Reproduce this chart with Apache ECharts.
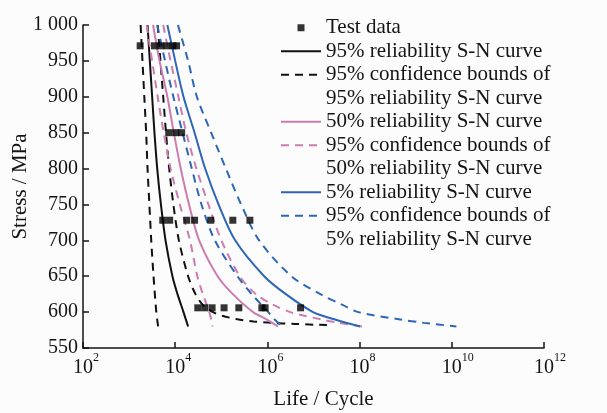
<!DOCTYPE html>
<html><head><meta charset="utf-8">
<script src="https://cdn.jsdelivr.net/npm/echarts@6/dist/echarts.min.js"></script>
<style>html,body{margin:0;padding:0;background:#fcfcfc}#c{width:607px;height:413px}</style>
</head><body><div id="c"></div>
<script>
// ---- Data (x = log10 of life in cycles, y = stress in MPa) ----
const xTicks = [2, 4, 6, 8, 10, 12];           // exponents of 10 shown on the life axis
const testStress = [971, 850, 728, 606];
const testLogLife = [
  [3.24, 3.55, 3.69, 3.82, 3.95, 4.03],
  [3.86, 4.01, 4.14],
  [3.73, 3.88, 4.25, 4.42, 4.77, 5.25, 5.62],
  [4.49, 4.64, 4.80, 5.06, 5.38, 5.88, 5.95, 6.72]
];
// 95% reliability curve and its 95% confidence bounds
const rel95 = [[3.40,1000],[3.45,950],[3.50,900],[3.55,850],[3.61,800],[3.69,750],[3.79,700],[3.94,650],[4.05,625],[4.18,600],[4.28,580]];
const rel95Lower = [[3.25,1000],[3.29,950],[3.33,900],[3.37,850],[3.40,800],[3.44,750],[3.48,700],[3.53,650],[3.59,600],[3.63,580]];
const rel95Upper = [[3.62,1000],[3.68,950],[3.74,900],[3.80,850],[3.87,800],[3.96,750],[4.08,700],[4.28,650],[4.44,625],[4.60,610],[4.82,600],[5.02,595],[5.35,590],[5.70,587],[6.10,585],[6.60,583.5],[7.00,582.5],[7.29,582]];
// 50% reliability curve and its bounds
const rel50 = [[3.52,1000],[3.66,950],[3.83,900],[3.97,850],[4.12,800],[4.30,750],[4.52,700],[4.92,650],[5.25,625],[5.69,600],[5.98,590],[6.23,580]];
const rel50Lower = [[3.38,1000],[3.50,950],[3.62,900],[3.75,850],[3.90,800],[4.10,750],[4.32,700],[4.48,650],[4.60,625],[4.74,600],[4.78,590],[4.81,580]];
const rel50Upper = [[3.74,1000],[3.90,950],[4.07,900],[4.24,850],[4.46,800],[4.72,750],[5.00,700],[5.40,650],[5.75,625],[6.13,610],[6.50,600],[6.80,595],[7.15,590],[7.55,585],[8.05,580]];
// 5% reliability curve and its bounds
const rel5 = [[3.83,1000],[4.00,950],[4.18,900],[4.42,850],[4.65,800],[4.94,750],[5.30,700],[5.93,650],[6.40,625],[6.99,600],[7.45,590],[8.01,580]];
const rel5Lower = [[3.61,1000],[3.78,950],[3.96,900],[4.16,850],[4.36,800],[4.57,750],[4.86,700],[5.35,650],[5.66,625],[6.02,600],[6.15,590],[6.33,580]];
const rel5Upper = [[4.06,1000],[4.28,950],[4.47,900],[4.78,850],[5.10,800],[5.43,750],[5.82,700],[6.52,650],[7.15,625],[7.63,610],[7.97,600],[8.85,590],[9.40,585],[10.10,580]];

const legendKeys = ['test','r95','b95','c95','r50','b50','c50','r5','b5','c5'];
const legendText = {
  test: 'Test data',
  r95: '95% reliability S-N curve',
  b95: '95% confidence bounds of',
  c95: '95% reliability S-N curve',
  r50: '50% reliability S-N curve',
  b50: '95% confidence bounds of',
  c50: '50% reliability S-N curve',
  r5: '5% reliability S-N curve',
  b5: '95% confidence bounds of',
  c5: '5% reliability S-N curve'
};

const FONT = '"Liberation Serif", "Times New Roman", serif';
const TXT = '#141414';
const BLACK = '#111111', PINK = '#cc7db0', BLUE = '#2d66b6';

function lineSeries(name, data, color, dashed) {
  return {
    type: 'line', name: name, data: data, showSymbol: false, symbol: 'none',
    smooth: 0.3, silent: true, z: 2,
    lineStyle: { color: color, width: 2, type: dashed ? [8, 6] : 'solid' },
    itemStyle: { color: color }
  };
}

const testPoints = [];
testStress.forEach((s, i) => testLogLife[i].forEach(x => testPoints.push([x, s])));

const series = [
  lineSeries('b95', rel95Lower, BLACK, true),
  lineSeries('b95', rel95Upper, BLACK, true),
  lineSeries('r95', rel95, BLACK, false),
  lineSeries('b50', rel50Lower, PINK, true),
  lineSeries('b50', rel50Upper, PINK, true),
  lineSeries('r50', rel50, PINK, false),
  lineSeries('b5', rel5Lower, BLUE, true),
  lineSeries('b5', rel5Upper, BLUE, true),
  lineSeries('r5', rel5, BLUE, false),
  { type: 'line', name: 'c95', data: [] },
  { type: 'line', name: 'c50', data: [] },
  { type: 'line', name: 'c5', data: [] },
  { type: 'scatter', name: 'test', data: testPoints, symbol: 'rect', symbolSize: 7,
    itemStyle: { color: '#000' }, z: 5, silent: true }
];

const chart = echarts.init(document.getElementById('c'));
chart.setOption({
  animation: false,
  backgroundColor: '#fcfcfc',
  grid: { left: 83, right: 63, top: 25, bottom: 65, containLabel: false, outerBoundsMode: 'none' },
  legend: {
    orient: 'vertical', left: 280, top: 16, padding: 0, itemGap: 0,
    itemWidth: 40, itemHeight: 7, selectedMode: false, symbolKeepAspect: true,
    data: legendKeys.map(k => {
      if (k === 'test') return { name: k, icon: 'path://M0,0L10,0L10,10L0,10Z', itemStyle: { color: '#000' } };
      if (k[0] === 'c') return { name: k, icon: 'none' };
      return { name: k, itemStyle: { opacity: 0 } };
    }),
    formatter: n => legendText[n],
    textStyle: { fontFamily: FONT, fontSize: 21, color: TXT, lineHeight: 23.5 }
  },
  xAxis: {
    type: 'value', min: xTicks[0], max: xTicks[xTicks.length - 1], interval: 2,
    axisLine: { show: true, onZero: false, lineStyle: { color: TXT, width: 1.5 } },
    axisTick: { show: true, inside: true, length: 6, lineStyle: { color: TXT, width: 1.5 } },
    splitLine: { show: false },
    axisLabel: {
      margin: 4, color: TXT, fontFamily: FONT,
      formatter: v => (v < 10 ? '{b|10}' : '{bb|10}') + '{s|' + v + '}',
      rich: {
        b: { fontFamily: FONT, fontSize: 20, color: TXT, verticalAlign: 'bottom', lineHeight: 26, padding: [0, 0, 0, 6] },
        bb: { fontFamily: FONT, fontSize: 20, color: TXT, verticalAlign: 'bottom', lineHeight: 26, padding: [0, 0, 0, 12] },
        s: { fontFamily: FONT, fontSize: 12, color: TXT, verticalAlign: 'top', lineHeight: 26, padding: [0, 0, 8, 0] }
      }
    },
    name: 'Life / Cycle', nameLocation: 'middle', nameGap: 41, nameMoveOverlap: false,
    nameTextStyle: { fontFamily: FONT, fontSize: 21, color: TXT, padding: [0, 0, 0, 20] }
  },
  yAxis: {
    type: 'value', min: 550, max: 1000, interval: 50,
    axisLine: { show: true, lineStyle: { color: TXT, width: 1.5 } },
    axisTick: { show: true, inside: true, length: 6, lineStyle: { color: TXT, width: 1.5 } },
    splitLine: { show: false },
    axisLabel: {
      margin: 5, color: TXT, fontFamily: FONT, fontSize: 20,
      formatter: v => String(v).replace(/\B(?=(\d{3})+(?!\d))/g, ' ')
    },
    name: 'Stress / MPa', nameLocation: 'middle', nameGap: 52, nameMoveOverlap: false,
    nameTextStyle: { fontFamily: FONT, fontSize: 21, color: TXT }
  },
  series: series
});
</script>
</body></html>
